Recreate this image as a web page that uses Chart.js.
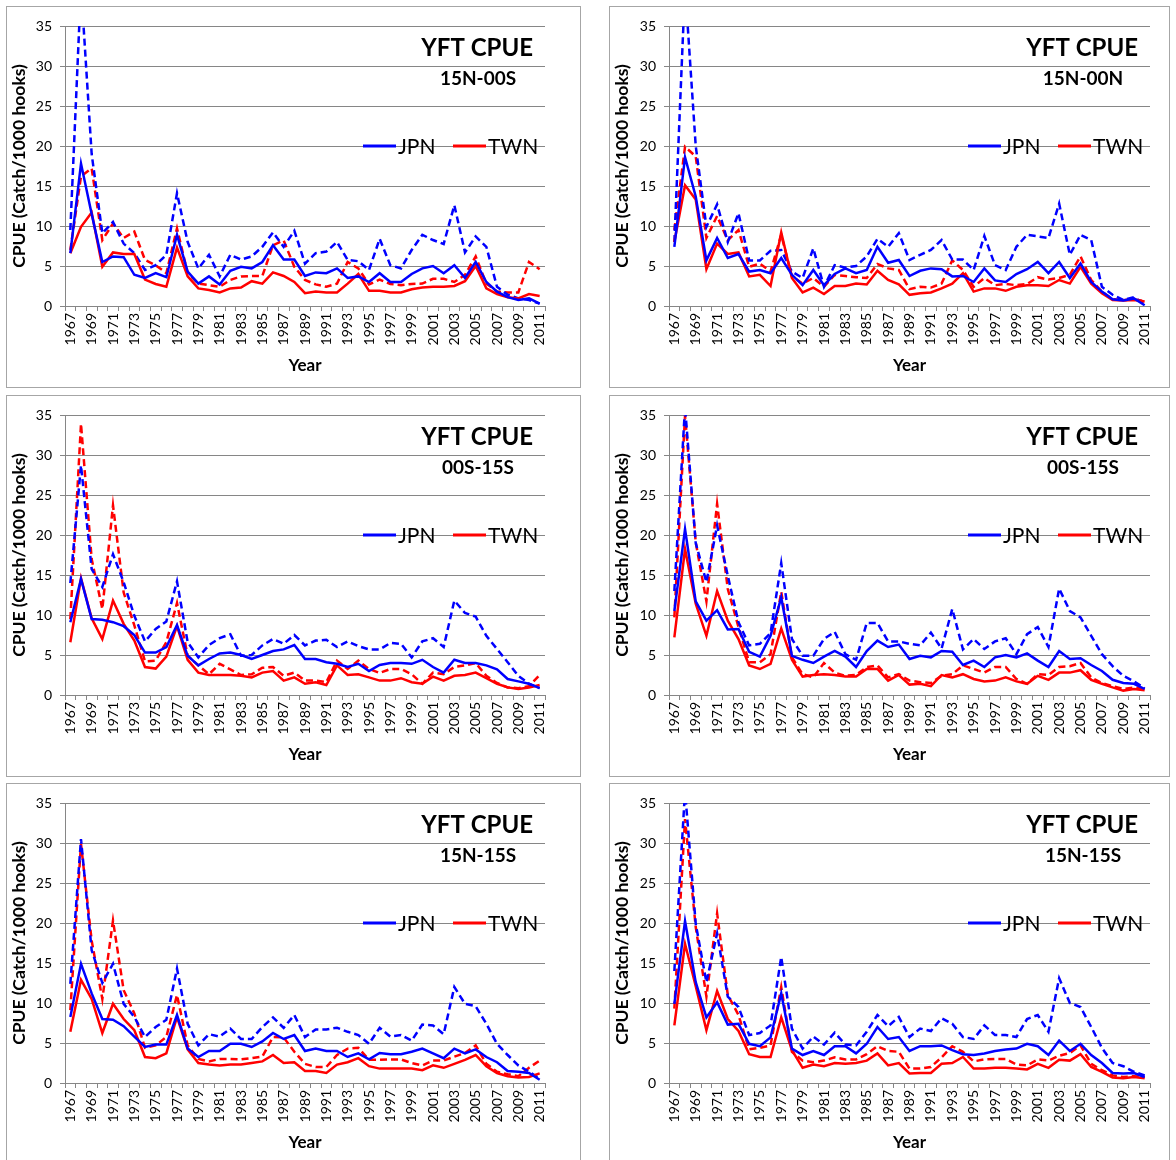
<!DOCTYPE html>
<html>
<head>
<meta charset="utf-8">
<title>YFT CPUE</title>
<script src="https://cdn.jsdelivr.net/npm/chart.js@4.4.1/dist/chart.umd.min.js"></script>
<style>
body { margin: 0; background: #fff; width: 1176px; height: 1160px; overflow: hidden; position: relative; }
.panel { position: absolute; border: 1px solid #a6a6a6; background: #fff; overflow: hidden; }
.panel canvas { display: block; }
</style>
</head>
<body>
<div class="panel" style="left:6px;top:6px;width:573px;height:380px"><canvas id="c1"></canvas></div>
<div class="panel" style="left:609px;top:6px;width:559px;height:380px"><canvas id="c2"></canvas></div>
<div class="panel" style="left:6px;top:395px;width:573px;height:380px"><canvas id="c3"></canvas></div>
<div class="panel" style="left:609px;top:395px;width:559px;height:380px"><canvas id="c4"></canvas></div>
<div class="panel" style="left:6px;top:783px;width:573px;height:380px"><canvas id="c5"></canvas></div>
<div class="panel" style="left:609px;top:783px;width:559px;height:380px"><canvas id="c6"></canvas></div>
<script>
// Years 1967-2011
const years = ["1967","1968","1969","1970","1971","1972","1973","1974","1975","1976",
    "1977","1978","1979","1980","1981","1982","1983","1984","1985","1986",
    "1987","1988","1989","1990","1991","1992","1993","1994","1995","1996",
    "1997","1998","1999","2000","2001","2002","2003","2004","2005","2006",
    "2007","2008","2009","2010","2011"];
const yTicks = [0, 5, 10, 15, 20, 25, 30, 35];

// 15N-00S (top left)
const p1Jpn = [6.6,17.8,11.5,5.5,6.2,6.1,3.9,3.5,4.1,3.6, 8.9,4.3,2.8,3.7,2.7,4.4,4.9,4.7,5.5,7.6,
    5.8,5.8,3.75,4.2,4.1,4.7,3.5,3.7,3.0,4.1, 3.0,3.0,4.0,4.7,5.0,4.1,5.1,3.5,5.5,3.0, 1.8,1.1,0.75,0.95,0.3];
const p1JpnDash = [9.5,40,19,9.1,10.5,7.8,6.6,4.5,5.1,6.4, 14.1,8,4.7,6.4,3.7,6.4,5.8,6.2,7.4,9.2,
    7.4,9.4,5.3,6.6,6.8,8.0,5.75,5.6,4.5,8.4, 5.1,4.7,7.0,8.9,8.25,7.75,12.6,6.7,8.7,7.4, 2.4,1.4,0.95,0.75,0.3];
const p1Twn = [6.6,9.9,11.7,4.9,6.7,6.5,6.5,3.3,2.75,2.4, 7.3,3.7,2.2,2.0,1.7,2.2,2.3,3.1,2.8,4.2,
    3.75,3.0,1.6,1.8,1.7,1.7,2.8,4.0,1.9,1.9, 1.7,1.7,2.1,2.3,2.4,2.4,2.5,3.1,5.0,2.2, 1.5,1.1,0.95,1.5,1.25];
const p1TwnDash = [7.0,16.2,17.2,8.25,10.3,8.5,9.3,5.75,5.1,4.1, 9.7,4.1,2.8,2.6,2.4,3.25,3.7,3.75,3.75,7.6,
    8.2,4.9,3.25,2.7,2.4,2.8,5.5,4.7,2.7,3.3, 2.75,2.6,2.75,2.8,3.4,3.4,3.0,3.9,6.2,2.8, 1.8,1.7,1.7,5.5,4.6];

// 15N-00N (top right)
const p2Jpn = [7.4,18.6,13.7,5.7,8.5,6.0,6.5,4.3,4.5,4.1, 6.0,3.9,2.6,4.5,2.6,4.0,4.7,4.1,4.5,7.4,
    5.4,5.75,3.75,4.4,4.7,4.6,3.7,3.75,3.0,4.7, 3.2,3.0,4.0,4.6,5.5,4.1,5.5,3.5,5.3,3.0, 1.8,0.85,0.7,0.95,0.1];
const p2JpnDash = [8,40,20,9.9,12.7,8.0,11.6,5.7,5.7,6.9, 7.0,4.3,3.5,7.2,2.4,5.1,4.8,5.0,6.2,8.4,
    7.4,9.1,5.75,6.4,7.0,8.25,5.8,5.8,4.5,8.75, 5.1,4.5,7.4,8.9,8.7,8.5,12.8,6.4,8.9,8.25, 2.4,1.4,0.75,1.1,0.25];
const p2Twn = [8.0,15.1,13.3,4.6,7.8,6.5,6.7,3.7,3.9,2.5, 9.2,3.5,1.7,2.3,1.5,2.5,2.5,2.8,2.7,4.4,
    3.25,2.7,1.4,1.6,1.7,2.2,2.8,4.1,1.8,2.2, 2.2,1.9,2.4,2.6,2.6,2.5,3.25,2.8,4.9,2.8, 1.6,0.75,0.7,0.75,0.55];
const p2TwnDash = [9.5,19.9,18.7,8.5,11.25,8.2,9.5,4.9,5.3,4.3, 8.9,3.7,2.8,3.5,2.4,3.9,3.75,3.6,3.5,5.25,
    4.7,4.5,2.1,2.4,2.3,2.8,5.7,4.5,2.4,3.5, 2.6,2.75,2.6,2.75,3.6,3.3,3.5,3.9,6.2,3.25, 1.8,0.85,0.75,0.85,0.6];

// 00S-15S (middle left)
const p3Jpn = [9.1,14.5,9.5,9.4,9.1,8.6,7.5,5.3,5.3,6.0, 8.75,4.9,3.7,4.5,5.2,5.3,5.0,4.5,5.0,5.5,
    5.7,6.25,4.5,4.5,4.1,3.9,3.5,3.9,3.0,3.75, 4.0,4.0,3.9,4.4,3.5,2.8,4.4,4.0,4.0,3.7, 3.2,2.0,1.7,1.4,0.85];
const p3JpnDash = [14,28.7,15.75,13.5,17.6,14.1,9.9,6.7,8.25,9.2, 14.2,6.6,4.7,6.25,7.1,7.6,4.9,5.0,6.2,7.0,
    6.4,7.5,6.2,6.8,6.9,6.0,6.7,6.1,5.7,5.7, 6.5,6.4,4.7,6.7,7.1,6.0,11.8,10.25,9.8,7.4, 5.75,4.1,2.4,1.4,0.85];
const p3Twn = [6.6,14.6,9.6,7.0,11.8,8.9,6.8,3.5,3.3,4.8, 8.6,4.4,2.8,2.5,2.5,2.5,2.4,2.2,2.8,3.0,
    1.8,2.2,1.4,1.6,1.25,3.7,2.5,2.6,2.2,1.8, 1.8,2.1,1.6,1.4,2.3,1.8,2.4,2.5,2.8,2.1, 1.4,0.95,0.75,0.95,1.25];
const p3TwnDash = [9.5,33.9,17,10.75,23.7,12.8,8.7,4.2,4.3,6.6, 11.5,4.9,3.7,2.6,3.9,3.2,2.5,2.6,3.4,3.5,
    2.4,2.8,1.8,1.8,1.6,4.3,3.25,4.3,3.25,2.75, 3.25,3.25,2.6,1.4,2.8,2.6,3.5,3.7,4.0,2.4, 1.5,0.95,0.85,1.1,2.5];

// 00S-15S (middle right)
const p4Jpn = [10.5,20.75,11.7,9.3,10.6,8.2,8.25,5.4,4.8,7.4, 12.2,4.9,4.4,4.0,4.8,5.5,4.8,3.5,5.5,6.8,
    6.0,6.3,4.5,4.9,4.7,5.5,5.4,3.75,4.3,3.5, 4.7,5.0,4.7,5.2,4.3,3.5,5.5,4.5,4.6,3.75, 3.0,1.9,1.5,1.4,0.75];
const p4JpnDash = [13,36,19,14.1,21.2,14.9,9.1,6.2,6.4,7.75, 16.5,7.0,4.9,4.9,7.0,7.9,5.1,4.4,9.0,9.0,
    6.7,6.7,6.4,6.2,7.8,5.8,10.75,5.7,7.0,5.75, 6.7,7.1,5.1,7.6,8.5,6.0,13.3,10.5,9.7,7.4, 5.1,3.6,2.4,1.7,0.85];
const p4Twn = [7.2,18.25,11.4,7.4,13.0,9.3,7.0,3.7,3.25,3.9, 8.3,4.4,2.3,2.5,2.6,2.5,2.3,2.3,3.25,3.25,
    1.8,2.5,1.3,1.4,1.1,2.5,2.2,2.6,2.0,1.7, 1.8,2.2,1.7,1.4,2.4,1.9,2.8,2.8,3.1,1.9, 1.4,0.95,0.55,0.75,0.6];
const p4TwnDash = [9.7,34.9,19.1,11.7,23.9,13.25,8.5,4.1,4.1,5.1, 12.9,4.7,2.6,2.2,4.0,2.8,2.4,2.5,3.5,3.7,
    2.2,2.6,1.8,1.6,1.5,2.4,2.6,3.7,3.25,2.8, 3.5,3.5,2.0,1.4,2.6,2.5,3.5,3.6,4.0,2.2, 1.5,1.1,0.75,0.95,0.75];

// 15N-15S (bottom left)
const p5Jpn = [8.25,14.9,11.2,8.0,7.9,7.1,5.8,4.5,4.8,4.8, 8.5,4.3,3.25,4.0,4.0,4.9,4.9,4.5,5.2,6.25,
    5.5,6.0,4.0,4.3,4.0,4.0,3.25,3.7,2.95,3.75, 3.6,3.6,3.9,4.3,3.7,3.1,4.3,3.7,4.2,3.25, 2.6,1.5,1.4,1.25,0.4];
const p5JpnDash = [12.4,30.5,16.6,12.5,14.9,9.9,8.25,5.75,7.0,7.9, 14.3,7.4,4.7,6.1,5.8,6.8,5.5,5.5,7.0,8.2,
    6.9,8.5,5.75,6.7,6.7,6.9,6.4,6.0,4.9,6.9, 5.8,6.0,5.3,7.3,7.2,6.1,12.0,9.9,9.6,7.4, 4.9,3.5,2.2,1.4,0.55];
const p5Twn = [6.4,12.9,10.5,6.25,9.9,8.0,6.6,3.25,3.1,3.7, 8.25,4.2,2.5,2.3,2.2,2.3,2.3,2.5,2.7,3.5,
    2.5,2.6,1.5,1.5,1.25,2.3,2.6,3.1,2.1,1.8, 1.8,1.8,1.8,1.6,2.2,1.9,2.4,2.9,3.5,2.1, 1.25,0.85,0.7,0.75,1.2];
const p5TwnDash = [9.1,29.9,17.8,10.5,20.3,11.6,8.7,4.4,4.7,5.75, 11.0,4.7,3.0,2.7,3.0,3.0,2.95,3.1,3.3,5.75,
    5.7,3.9,2.4,2.0,2.0,3.5,4.3,4.4,2.9,2.9, 2.95,2.95,2.5,2.2,2.8,2.8,3.3,3.75,4.7,2.4, 1.4,1.1,0.85,1.9,2.8];

// 15N-15S (bottom right)
const p6Jpn = [9.9,20.25,12.6,8.2,10.1,7.3,7.4,4.9,4.6,5.7, 11.2,4.3,3.5,4.0,3.5,4.6,4.6,3.7,4.9,7.0,
    5.5,5.75,4.0,4.6,4.6,4.7,4.1,3.6,3.5,3.7, 4.0,4.2,4.3,4.9,4.6,3.5,5.3,4.0,4.9,3.5, 2.5,1.25,1.2,1.25,0.75];
const p6JpnDash = [14,36.5,19.9,12.6,18.7,10.8,9.5,6.0,6.25,7.2, 15.75,6.8,4.3,5.8,4.8,6.3,4.8,4.7,6.4,8.5,
    7.1,8.25,5.75,6.8,6.5,8.1,7.4,5.75,5.5,7.2, 6.0,6.0,5.75,8.0,8.5,6.4,13.1,10.0,9.5,7.0, 4.4,2.5,2.1,1.4,0.95];
const p6Twn = [7.2,17.4,12.1,6.6,11.5,8.0,6.5,3.6,3.25,3.25, 8.2,4.1,1.9,2.3,2.1,2.5,2.4,2.5,2.8,3.7,
    2.2,2.5,1.2,1.25,1.25,2.4,2.5,3.25,1.8,1.8, 1.9,1.9,1.8,1.7,2.4,1.9,2.9,2.8,3.6,2.0, 1.4,0.7,0.6,0.75,0.6];
const p6TwnDash = [9.3,33.0,19.5,10.8,21.2,11.0,8.5,4.2,4.4,4.7, 12.0,3.9,2.8,2.6,2.8,3.2,2.95,2.95,3.6,4.6,
    4.0,3.9,1.8,1.8,2.0,3.2,4.6,3.9,2.7,2.95, 3.0,3.0,2.3,2.2,2.95,2.8,3.4,3.75,4.7,2.4, 1.6,0.95,0.75,0.85,0.75];

const BLUE = "#0000ff";
const RED = "#ff0000";
const GRID = "#868686";
const FONT = "Lato, 'Open Sans', sans-serif";

// title, region label and legend drawn inside the plot area like the Excel charts
const panelText = {
    id: "panelText",
    afterDraw(chart, args, opts) {
        const ctx = chart.ctx;
        const a = chart.chartArea;
        ctx.save();
        ctx.fillStyle = "#000";
        ctx.textBaseline = "alphabetic";
        ctx.font = "bold 24px " + FONT;
        ctx.textAlign = "right";
        ctx.fillText("YFT CPUE", a.right - 12, a.top + 30);
        ctx.font = "bold 19px " + FONT;
        ctx.textAlign = "center";
        ctx.fillText(opts.sub, a.right - 67, a.top + 59);

        // legend: solid series only
        const ly = a.top + 120;
        const items = [
            { ds: chart.data.datasets[0], x: a.right - 182 },
            { ds: chart.data.datasets[1], x: a.right - 92 }
        ];
        ctx.font = "21px " + FONT;
        ctx.textAlign = "left";
        ctx.textBaseline = "middle";
        items.forEach(it => {
            ctx.strokeStyle = it.ds.borderColor;
            ctx.lineWidth = 3;
            ctx.setLineDash([]);
            ctx.beginPath();
            ctx.moveTo(it.x, ly);
            ctx.lineTo(it.x + 33, ly);
            ctx.stroke();
            ctx.fillStyle = "#000";
            ctx.fillText(it.ds.label, it.x + 35, ly + 1);
        });
        ctx.restore();
    }
};

function makeChart(id, sub, jpn, jpnDash, twn, twnDash, axisW, rightPad) {
    const ctx = document.getElementById(id).getContext("2d");
    return new Chart(ctx, {
        type: "line",
        data: {
            labels: years,
            datasets: [
                { label: "JPN", data: jpn, borderColor: BLUE, borderWidth: 2.5 },
                { label: "TWN", data: twn, borderColor: RED, borderWidth: 2.5 },
                { label: "JPN (nominal)", data: jpnDash, borderColor: BLUE, borderWidth: 2.5, borderDash: [7, 4] },
                { label: "TWN (nominal)", data: twnDash, borderColor: RED, borderWidth: 2.5, borderDash: [7, 4] }
            ]
        },
        options: {
            responsive: true,
            maintainAspectRatio: false,
            animation: false,
            layout: { padding: { top: 19, right: rightPad, left: 0, bottom: 0 } },
            elements: {
                point: { radius: 0, hoverRadius: 0 },
                line: { tension: 0, fill: false }
            },
            plugins: {
                legend: { display: false },
                tooltip: { enabled: false },
                panelText: { sub: sub }
            },
            scales: {
                x: {
                    offset: true,
                    grid: { offset: true, drawOnChartArea: false, drawTicks: true, tickLength: 5, color: GRID },
                    border: { color: GRID },
                    ticks: {
                        autoSkip: false,
                        maxRotation: 90,
                        minRotation: 90,
                        padding: 2,
                        color: "#000",
                        font: { family: FONT, size: 14 },
                        callback: function (v, i) { return i % 2 === 0 ? this.getLabelForValue(v) : ""; }
                    },
                    title: {
                        display: true,
                        text: "Year",
                        color: "#000",
                        font: { family: FONT, size: 17, weight: "bold" },
                        padding: { top: 0, bottom: 11 }
                    },
                    afterFit: s => { s.height = 81; }
                },
                y: {
                    min: yTicks[0],
                    max: yTicks[yTicks.length - 1],
                    afterBuildTicks: s => { s.ticks = yTicks.map(v => ({ value: v })); },
                    grid: { color: GRID, tickLength: 5 },
                    border: { color: GRID },
                    ticks: {
                        padding: 8,
                        color: "#000",
                        font: { family: FONT, size: 14 }
                    },
                    title: {
                        display: true,
                        text: "CPUE (Catch/1000 hooks)",
                        color: "#000",
                        font: { family: FONT, size: 17.5, weight: "bold" },
                        padding: { top: 2, bottom: 0 }
                    },
                    afterFit: s => { s.width = axisW; }
                }
            }
        },
        plugins: [panelText]
    });
}

makeChart("c1", "15N-00S", p1Jpn, p1JpnDash, p1Twn, p1TwnDash, 58, 35);
makeChart("c2", "15N-00N", p2Jpn, p2JpnDash, p2Twn, p2TwnDash, 59, 19);
makeChart("c3", "00S-15S", p3Jpn, p3JpnDash, p3Twn, p3TwnDash, 58, 35);
makeChart("c4", "00S-15S", p4Jpn, p4JpnDash, p4Twn, p4TwnDash, 59, 19);
makeChart("c5", "15N-15S", p5Jpn, p5JpnDash, p5Twn, p5TwnDash, 58, 35);
makeChart("c6", "15N-15S", p6Jpn, p6JpnDash, p6Twn, p6TwnDash, 59, 19);
</script>
</body>
</html>
